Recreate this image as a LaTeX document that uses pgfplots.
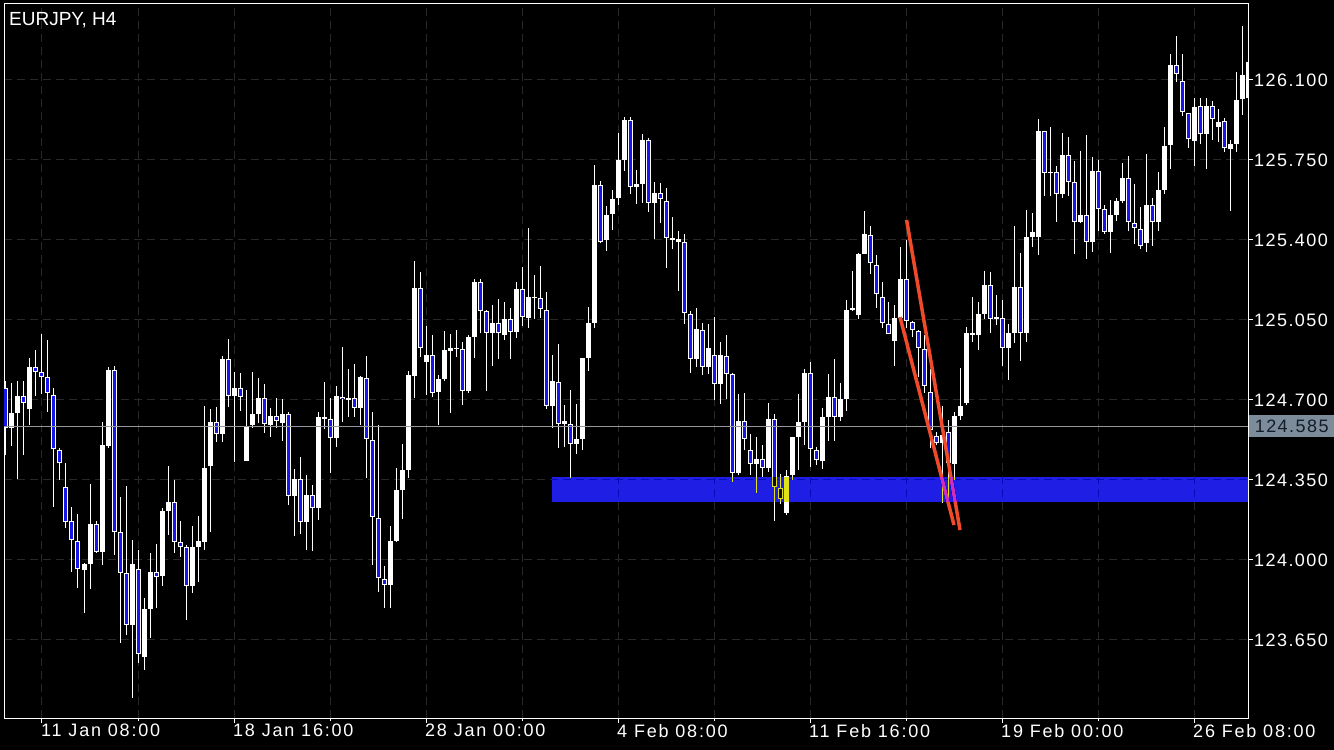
\documentclass[border=0pt]{standalone}
\usepackage{fontspec}
\setmainfont{Liberation Sans}
\newfontfamily\ytickfont[LetterSpace=8]{Liberation Sans}
\newfontfamily\xtickfont[LetterSpace=10]{Liberation Sans}
\usepackage{pgfplots}
\pgfplotsset{compat=1.18}
\usepackage{pgfplotstable}
\definecolor{bear}{RGB}{22,22,232}
\definecolor{band}{RGB}{30,30,228}
\definecolor{gridc}{RGB}{40,40,40}
\definecolor{tline}{RGB}{240,74,42}
\definecolor{pbox}{RGB}{125,140,155}
\definecolor{ptext}{RGB}{20,28,38}
\definecolor{pline}{RGB}{150,150,150}

\pgfplotstableread{
i o h l c
-5 124.578 124.774 124.499 124.643
-4 124.643 124.783 124.354 124.718
-2 124.661 124.884 124.591 124.844
7 123.956 123.987 123.768 123.983
8 123.983 124.333 123.873 124.158
10 124.035 124.604 123.978 124.503
11 124.499 124.844 124.490 124.831
15 123.716 124.088 123.396 123.983
17 123.576 123.834 123.519 123.786
18 123.786 124.031 123.659 123.948
20 123.930 124.228 123.886 124.214
21 124.214 124.411 124.109 124.254
25 123.886 124.149 123.856 124.057
26 124.057 124.193 123.904 124.083
27 124.079 124.674 124.044 124.403
28 124.411 124.661 124.123 124.604
30 124.551 124.893 124.516 124.879
32 124.718 124.823 124.429 124.753
34 124.433 124.744 124.433 124.586
35 124.591 124.823 124.578 124.639
36 124.639 124.796 124.599 124.709
38 124.591 124.665 124.538 124.630
40 124.599 124.704 124.521 124.639
42 124.280 124.398 124.105 124.354
44 124.166 124.372 124.044 124.284
46 124.228 124.648 124.175 124.626
47 124.617 124.779 124.573 124.626
49 124.534 124.761 124.494 124.718
51 124.700 124.836 124.626 124.709
53 124.665 124.805 124.591 124.801
58 123.891 124.149 123.790 124.083
59 124.083 124.403 124.079 124.306
60 124.306 124.508 124.179 124.394
61 124.394 124.827 124.359 124.809
62 124.805 125.308 124.709 125.190
64 124.866 125.024 124.722 124.897
66 124.735 124.809 124.591 124.792
67 124.792 125.002 124.783 124.919
68 124.914 124.989 124.643 124.928
69 124.923 125.006 124.888 124.928
71 124.739 124.984 124.731 124.976
72 124.976 125.229 124.884 125.216
75 124.993 125.116 124.849 125.037
77 124.984 125.129 124.963 125.054
79 124.998 125.216 124.971 125.186
81 125.059 125.453 125.015 125.151
82 125.146 125.247 125.054 125.151
85 124.674 124.897 124.578 124.783
87 124.595 124.678 124.494 124.608
89 124.508 124.683 124.464 124.529
90 124.529 124.884 124.481 124.884
91 124.884 125.107 124.827 125.037
92 125.037 125.728 125.015 125.641
94 125.400 125.549 125.352 125.509
95 125.514 125.619 125.444 125.579
96 125.584 125.868 125.553 125.750
97 125.750 125.938 125.702 125.925
99 125.632 125.706 125.558 125.645
100 125.645 125.864 125.562 125.838
102 125.562 125.654 125.404 125.606
105 125.400 125.501 125.361 125.409
106 125.391 125.439 125.177 125.404
109 124.879 125.103 124.844 125.011
111 124.844 125.033 124.814 124.928
113 124.770 124.954 124.683 124.897
116 124.381 124.726 124.372 124.608
119 124.420 124.538 124.293 124.442
121 124.403 124.687 124.385 124.617
124 124.206 124.394 124.197 124.368
125 124.372 124.538 124.350 124.538
126 124.538 124.726 124.394 124.604
127 124.604 124.836 124.503 124.818
130 124.433 124.665 124.398 124.626
131 124.626 124.814 124.521 124.713
133 124.626 124.774 124.608 124.704
134 124.704 125.138 124.652 125.094
135 125.094 125.264 125.089 125.103
136 125.072 125.343 125.054 125.339
137 125.339 125.527 125.339 125.426
142 124.958 125.116 124.849 125.059
143 125.059 125.369 125.059 125.229
150 124.512 124.674 124.249 124.547
152 124.420 124.648 124.350 124.630
153 124.630 124.840 124.613 124.674
154 124.687 125.019 124.678 124.993
155 124.984 125.151 124.954 124.993
156 124.984 125.129 124.919 125.076
157 125.076 125.264 125.054 125.203
159 125.054 125.159 125.028 125.063
161 124.928 125.033 124.788 124.993
162 124.993 125.461 124.949 125.194
164 124.993 125.531 124.954 125.413
165 125.413 125.518 125.369 125.435
166 125.413 125.929 125.334 125.877
168 125.693 125.894 125.593 125.698
170 125.601 125.868 125.584 125.772
173 125.479 125.789 125.474 125.509
175 125.391 125.763 125.348 125.702
178 125.435 125.575 125.343 125.509
179 125.509 125.584 125.483 125.571
180 125.571 125.737 125.562 125.671
184 125.387 125.776 125.348 125.553
186 125.479 125.698 125.439 125.619
187 125.619 125.894 125.601 125.811
188 125.816 126.214 125.711 126.166
192 125.833 126.021 125.724 125.982
194 125.864 126.021 125.711 125.986
196 125.894 125.973 125.829 125.916
198 125.798 125.838 125.527 125.820
199 125.820 126.135 125.785 126.013
200 126.017 126.336 125.947 126.122
201 126.020 126.200 126.000 126.180
}\updata

\pgfplotstableread{
i o h l c
-6 124.753 124.783 124.459 124.578
-3 124.718 124.783 124.459 124.687
-1 124.844 124.919 124.718 124.823
0 124.823 124.989 124.726 124.801
1 124.801 124.963 124.648 124.731
2 124.722 124.753 124.232 124.486
3 124.481 124.490 124.350 124.424
4 124.319 124.424 124.140 124.166
5 124.171 124.232 123.948 124.088
6 124.083 124.201 123.878 123.961
9 124.158 124.171 124.031 124.035
12 124.831 124.849 124.022 124.123
13 124.123 124.276 123.637 123.943
14 123.943 124.324 123.672 123.716
16 123.961 124.044 123.549 123.589
19 123.948 124.070 123.790 123.926
22 124.254 124.350 124.031 124.079
23 124.079 124.171 124.013 124.057
24 124.057 124.066 123.738 123.886
29 124.604 124.669 124.516 124.551
31 124.879 124.967 124.669 124.718
33 124.753 124.818 124.652 124.713
37 124.709 124.770 124.556 124.595
39 124.630 124.709 124.578 124.608
41 124.639 124.648 124.241 124.280
43 124.354 124.451 124.114 124.166
45 124.284 124.328 124.039 124.228
48 124.617 124.709 124.381 124.534
50 124.713 124.932 124.604 124.704
52 124.709 124.858 124.626 124.665
54 124.796 124.893 124.359 124.529
55 124.525 124.648 123.978 124.188
56 124.184 124.591 123.860 123.921
57 123.917 123.974 123.790 123.891
63 125.190 125.260 124.888 124.928
65 124.897 124.984 124.713 124.731
70 124.923 124.954 124.678 124.739
73 125.216 125.229 124.993 125.089
74 125.089 125.094 124.739 124.993
76 125.037 125.142 124.879 124.993
78 125.054 125.103 124.879 124.998
80 125.186 125.282 125.024 125.063
83 125.146 125.286 125.059 125.098
84 125.094 125.173 124.661 124.674
86 124.779 124.945 124.490 124.595
88 124.595 124.744 124.359 124.508
93 125.641 125.658 125.387 125.391
98 125.925 125.938 125.601 125.632
101 125.838 125.846 125.523 125.562
103 125.606 125.649 125.474 125.579
104 125.571 125.628 125.278 125.409
107 125.391 125.426 125.033 125.081
108 125.076 125.089 124.818 124.879
110 125.006 125.037 124.809 124.844
112 124.897 125.063 124.700 124.770
114 124.893 124.984 124.704 124.814
115 124.814 124.818 124.341 124.381
117 124.608 124.731 124.481 124.529
118 124.481 124.551 124.372 124.420
120 124.442 124.503 124.363 124.403
122 124.617 124.639 124.171 124.319
123 124.315 124.376 124.245 124.267
128 124.818 124.866 124.407 124.486
129 124.481 124.494 124.416 124.438
132 124.713 124.879 124.521 124.626
138 125.422 125.461 125.251 125.299
139 125.291 125.334 125.103 125.164
140 125.151 125.216 125.015 125.037
141 125.033 125.129 124.989 124.989
144 125.229 125.400 125.015 125.046
145 125.041 125.046 124.976 125.006
146 125.002 125.006 124.801 124.928
147 124.923 124.984 124.731 124.761
148 124.735 124.836 124.490 124.569
149 124.543 124.560 124.503 124.512
151 124.560 124.613 124.254 124.424
158 125.203 125.260 124.993 125.054
160 125.059 125.138 124.849 124.928
163 125.194 125.343 124.871 124.993
167 125.877 125.877 125.593 125.693
169 125.698 125.724 125.479 125.601
171 125.772 125.851 125.593 125.654
172 125.654 125.746 125.339 125.479
174 125.509 125.859 125.317 125.391
176 125.702 125.750 125.439 125.536
177 125.536 125.553 125.426 125.435
181 125.671 125.768 125.439 125.479
182 125.474 125.645 125.383 125.453
183 125.448 125.544 125.361 125.374
185 125.553 125.584 125.374 125.479
189 126.166 126.293 126.091 126.126
190 126.096 126.214 125.943 125.960
191 125.956 125.956 125.803 125.842
193 125.986 126.021 125.820 125.864
195 125.986 126.008 125.838 125.929
197 125.921 125.934 125.785 125.803
}\dndata

\begin{document}
\begin{tikzpicture}[x=1pt,y=1pt]
\fill[black] (0,0) rectangle (1334,750);
\path[use as bounding box] (0,0) rectangle (1334,750);
\begin{axis}[
  at={(4pt,32pt)}, anchor=south west,
  width=1244pt, height=714pt, scale only axis,
  xmin=-6.333, xmax=201,
  ymin=123.30875, ymax=126.4325,
  clip mode=individual,
  axis line style={white, line width=1pt},
  tick style={white, line width=1pt},
  tick align=outside,
  major tick length=5pt, minor tick length=3pt,
  xtick pos=bottom, ytick pos=right,
  yticklabel pos=right,
  xtick={0,32,64,96,128,160,192},
  xticklabels={11 Jan 08:00,18 Jan 16:00,28 Jan 00:00,4 Feb 08:00,11 Feb 16:00,19 Feb 00:00,26 Feb 08:00},
  minor x tick num=1,
  ytick={123.65,124.0,124.35,124.7,125.05,125.4,125.75,126.1},
  yticklabels={123.650,124.000,124.350,124.700,125.050,125.400,125.750,126.100},
  xticklabel style={font=\xtickfont\fontsize{18}{20}\selectfont, text=white, anchor=north west, inner sep=0pt, xshift=-1pt, yshift=-1pt},
  yticklabel style={font=\ytickfont\fontsize{18}{20}\selectfont, text=white, anchor=west, inner sep=0pt, xshift=1pt},
  grid=major, xminorgrids=true,
  major grid style={gridc, dash pattern=on 8pt off 5pt, line width=1pt},
  minor grid style={gridc, dash pattern=on 8pt off 5pt, line width=1pt},
]
% wicks
\addplot[draw=none, forget plot, error bars/.cd, y dir=plus, y explicit, error mark=none,
  error bar style={draw=white, line width=1pt}]
  table[x=i, y=l, y error plus expr=\thisrow{h}-\thisrow{l}] {\updata};
\addplot[draw=none, forget plot, error bars/.cd, y dir=plus, y explicit, error mark=none,
  error bar style={draw=white, line width=1pt}]
  table[x=i, y=l, y error plus expr=\thisrow{h}-\thisrow{l}] {\dndata};
% bullish bodies
\addplot[draw=none, forget plot, error bars/.cd, y dir=plus, y explicit, error mark=none,
  error bar style={draw=white, line width=5pt}]
  table[x=i, y=o, y error plus expr={max(\thisrow{c}-\thisrow{o},0.0044)}] {\updata};
% bearish bodies
\addplot[draw=none, forget plot, error bars/.cd, y dir=plus, y explicit, error mark=none,
  error bar style={draw=white, line width=5pt}]
  table[x=i, y=c, y error plus expr={max(\thisrow{o}-\thisrow{c},0.0044)}] {\dndata};
\addplot[draw=none, forget plot, error bars/.cd, y dir=plus, y explicit, error mark=none,
  error bar style={draw=bear, line width=3pt}]
  table[x=i, y expr=\thisrow{c}+0.0044, y error plus expr={max(\thisrow{o}-\thisrow{c}-0.0088,0)}] {\dndata};
% current price line
\addplot[pline, line width=1pt, forget plot] coordinates {(-6.4,124.585) (201,124.585)};
% trend lines
\addplot[tline, line width=3.5pt, forget plot] coordinates {(144.1,125.4875) (153,124.131)};
\addplot[tline, line width=3.5pt, forget plot] coordinates {(143,125.063) (152,124.153)};
% zone rectangle
\addplot[fill=band, draw=none, forget plot, blend mode=difference] coordinates {(85,124.254) (202,124.254) (202,124.363) (85,124.363)} -- cycle;
% price tag
\node[fill=pbox, text=ptext, anchor=west, inner sep=0pt, minimum width=85pt, minimum height=22pt,
  font=\ytickfont\fontsize{18}{20}\selectfont] at (axis cs:201,124.585) [xshift=1pt] {124.585};
\node[anchor=north west, inner sep=0pt, text=white, font=\fontsize{19}{21}\selectfont]
  at (rel axis cs:0,1) [xshift=5pt, yshift=-8pt] {EURJPY, H4};
\end{axis}
\end{tikzpicture}
\end{document}
